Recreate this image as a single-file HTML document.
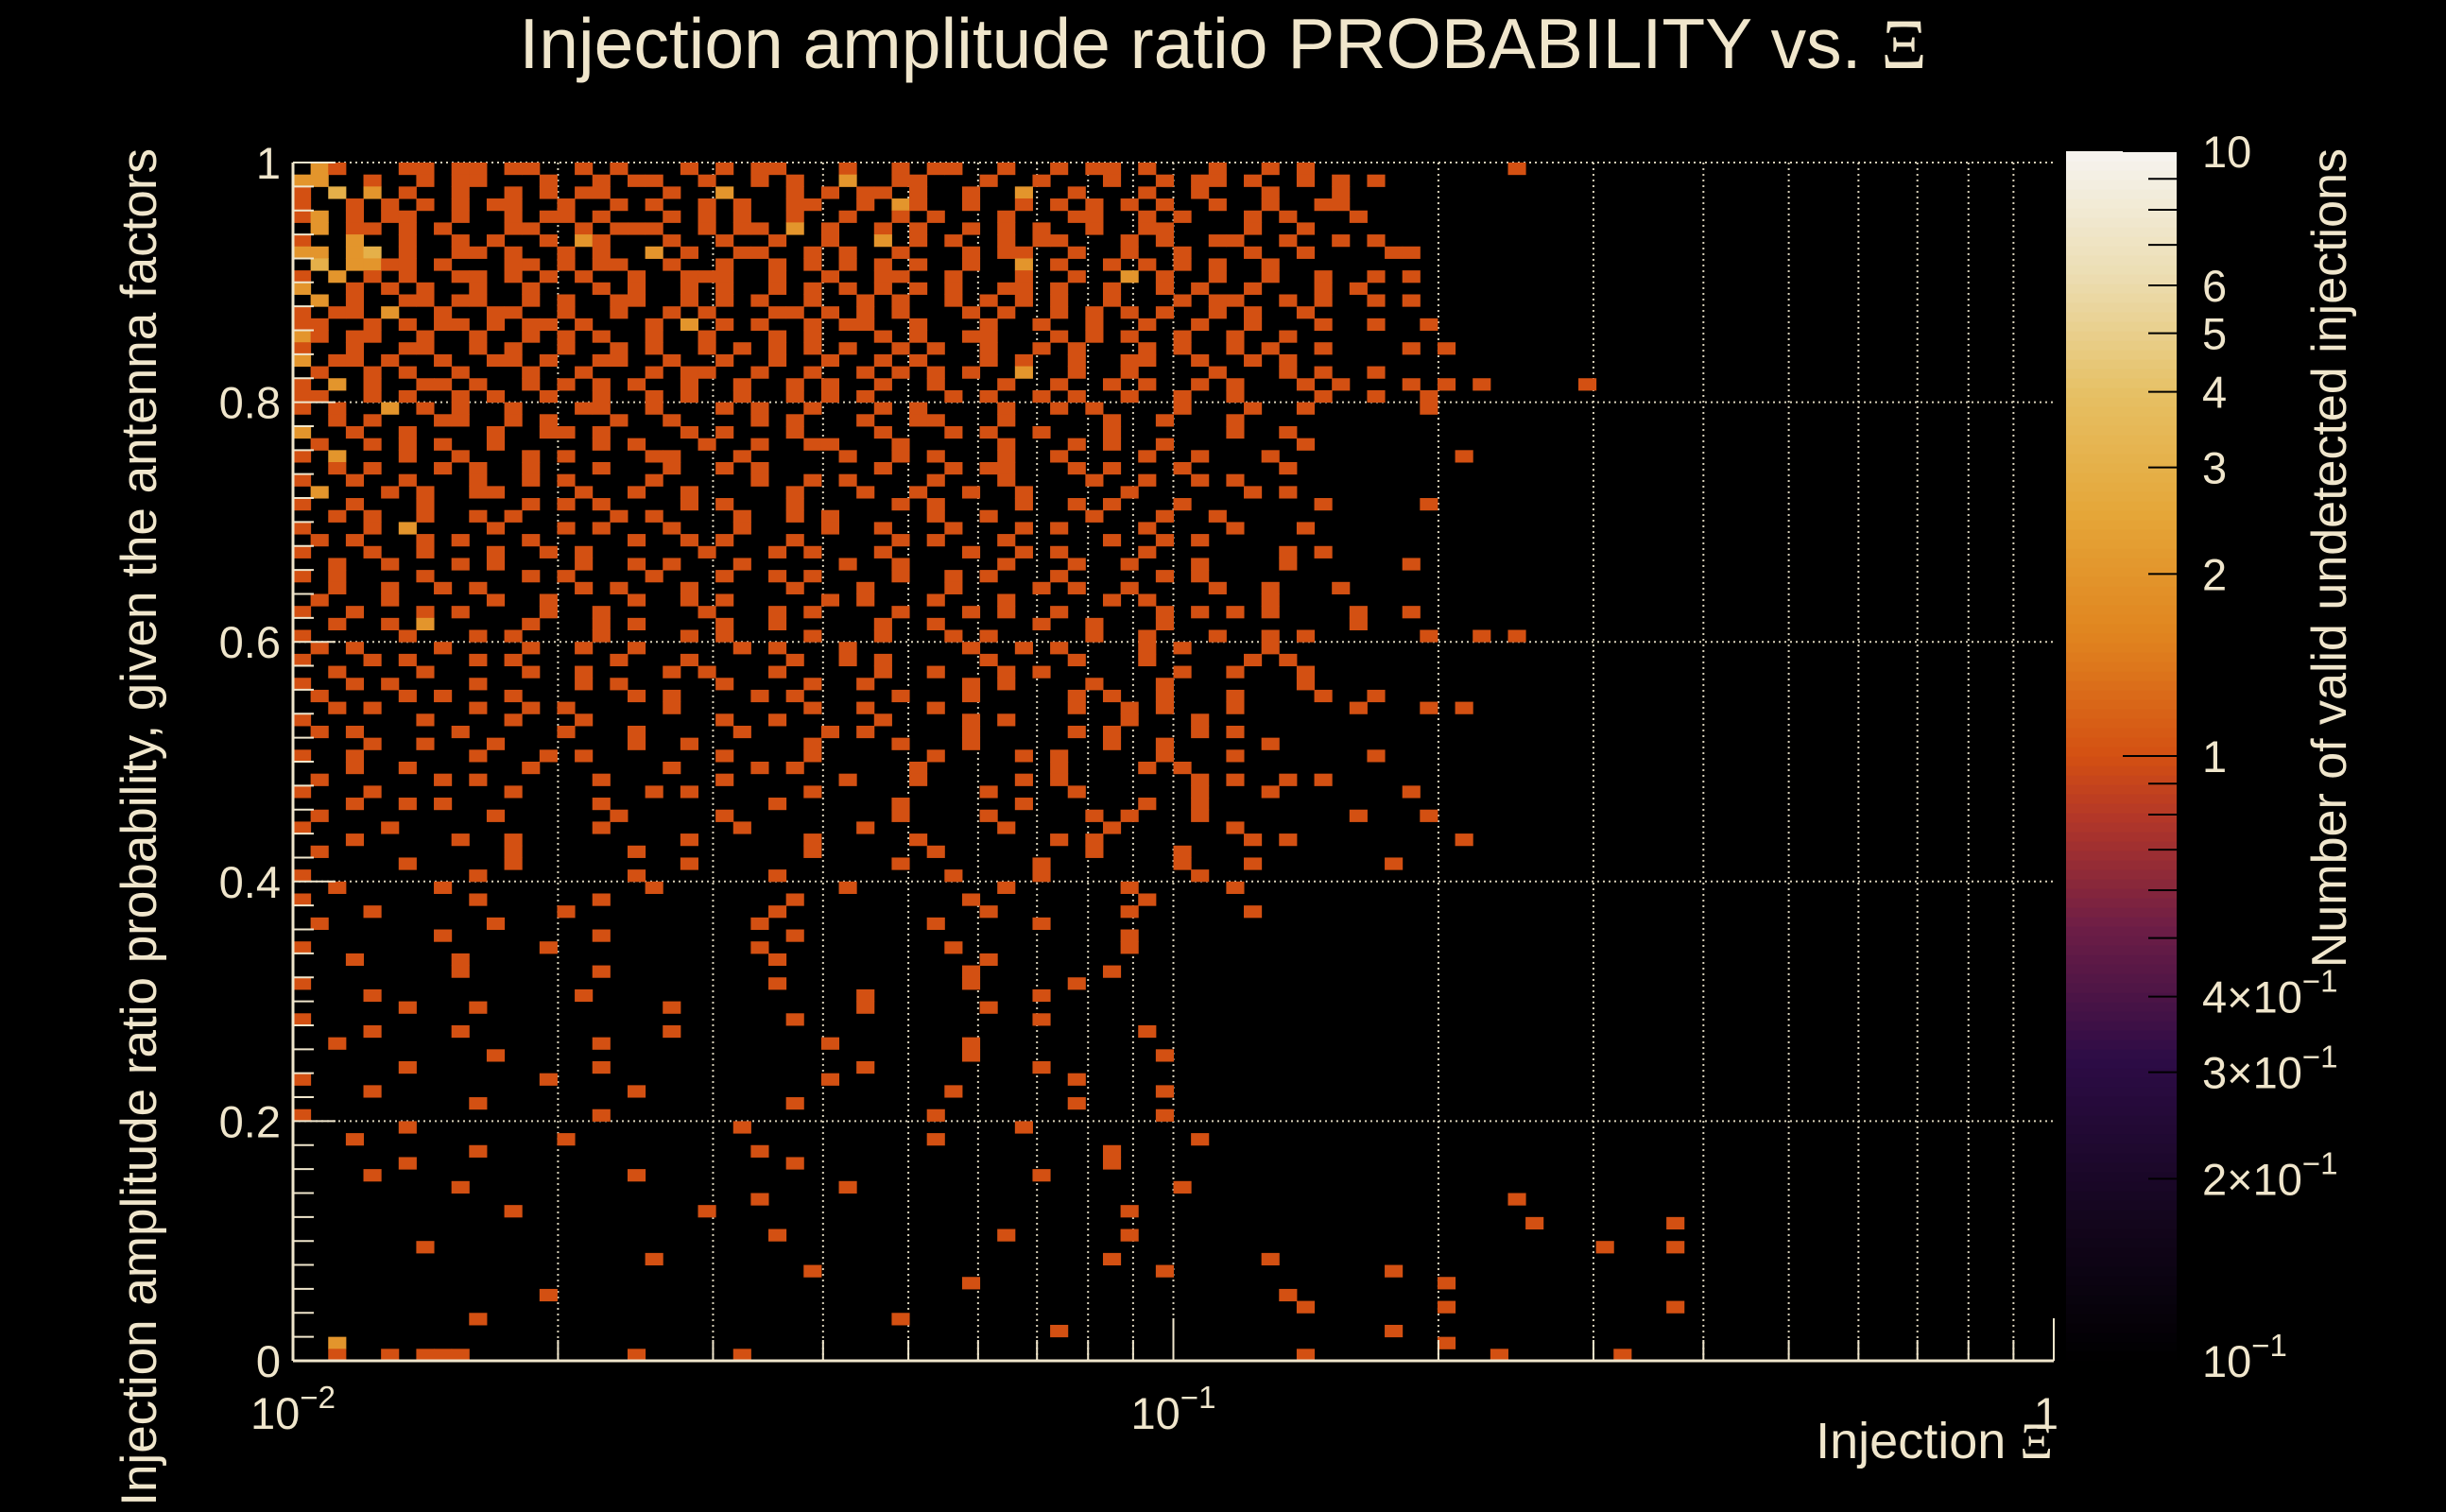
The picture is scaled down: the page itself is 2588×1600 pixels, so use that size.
<!DOCTYPE html>
<html><head><meta charset="utf-8"><style>
html,body{margin:0;padding:0;background:#000;}
svg{display:block;font-family:"Liberation Sans",sans-serif;}
</style></head><body>
<svg id="chart" width="2588" height="1600" viewBox="0 0 2588 1600" xmlns="http://www.w3.org/2000/svg">
<rect x="0" y="0" width="2588" height="1600" fill="#000"/>
<text x="1294" y="72" text-anchor="middle" font-size="75" fill="#f0e6cc">Injection amplitude ratio PROBABILITY vs.  <tspan font-family="Liberation Serif">Ξ</tspan></text>
<g id="grid"></g>
<g id="cells"></g>
<g id="axes"></g>
<g id="cbar"></g>
<text x="2172" y="1543" text-anchor="end" font-size="54" fill="#f0e6cc">Injection <tspan font-family="Liberation Serif">Ξ</tspan></text>
<text transform="translate(165,157) rotate(-90)" text-anchor="end" font-size="53" fill="#f0e6cc">Injection amplitude ratio probability, given the antenna factors</text>
<text transform="translate(2482,157) rotate(-90)" text-anchor="end" font-size="52" fill="#f0e6cc">Number of valid undetected injections</text>
</svg>
<script>
// Data: 100 x-bins (log10 x from -2 to 0), 100 y-bins (y from 1 down to 0). Row 0 = top.
const xRange = [0.01, 1];
const yRange = [0, 1];
const nBinsX = 100;
const nBinsY = 100;
const rows = [
".21...11.11.11..1.1...1.1.11...1..1.11..1..1.11.1...1..1.1...........1",
"22..1..1.11...1..1.11..1..1.1..2..11...1..1...1..1.11.1..1.1.1",
"1.3.2.1..1..1.1.11...1..2...1.1.11.1..1..2..1...1..1...1...1",
"1..1.1.1.1.11..1..1.1..1.1..11..1.21..1..1.1.1.1.1..1..1..11",
"12.1.11..1..1.11.1...1.1.1..1..1..1.1...1...11..1.1...1.1...1",
".2.11.1.1...11..1.111..1.11.2.1..1.1..1.1.1..1..11....1..1",
"1..2..1..1.1..1.21...1..1..1..1..2.1.1..1.11...1.1..11..1..1.1",
"22.23.1..11.1..1.1..2.1..11..1.1..1...1.11..1..1..1...1..1....11",
".3.2211.1...11.1.11..1..1..1.1.1.1.1..1..2.1..1.1.1.1..1",
"1.2.1.1..11.1.1.1..1..111..1..1..11..1...1..1..2.1..1..1..1..1.1",
"2..1.1.1..1..1...1.1..1.1..1.1.1.1.1.1..11.1..1..1.1..1...1.1",
".2.1..11.11..1.1..11..1.1.1..1..1.1..1.1.1.1..1...1.11..1.1..1.1",
"1.11.2..1..11..1..1..1.1...11.1.1.1...1.1..1.1.1.1..1.1..1",
"11..1.1.11.1.11.1...1.2.1.1..1.11..1...1..1..1..1..1..1...1..1..1",
"21.11..1..1..1.1.1..1..1...1.1...1.1..11...1.1.1..1..1..1",
"1..1..11..1.1..1..1.1..1.1.1.1.1..1.1..1..1.1...1.1..1.1..1....1.1",
"2.11.1..1..11.1..11..1..1..1..1..1.1...1.1..1..11..1..1.1",
".1..1.1..1...1..1...1.11..1..1..1.1.1.1..2..1..1....1...1.1..1",
"1.2.1..11.1..1.1.1.1..1..1..1.1..1..1...1..1..1.1..1.1...1.1...1.1.1.....1",
"11..1.1..1.1..1..1..1.1..1..1.1.1....1.1..1.1..1..1..1....1..1..1",
"1.1..2.1.1..1...11..1...1.1..1...1.1....1..1.1....1...1..1......1",
"..1.1...11..1.1...1..1....1.1...1..11...1.....1..1...1",
"2..1..1....1..11.1....1.1...1....1...1.1..1...1......1..1",
".1..1.1.1..1.....1.1...1..1..11...1.....1...1.1..1.......1",
"1.2...1..1...1.1....11...1.....1..1.1...1..1....1..1...1..........1",
"..1.1...1.1..1...1...1..1.1......1...1.11...1.1...1.....1",
"1..1..1...1..1.1....1.....1..1.1....1...1....1..1..1.1",
".2...1.1..11....1..1..1.....1...1..1..1..1.....1......1.1",
"1..1...1.....1.1.1....1.1...1.....1.1....1..1.1...1.......1.....1",
"..1.1..1..1.1.....1.1....1..1.1.....1..1.....1...1..1",
"1...1.2....1...1.1...1...1....1..1...1...1.1....1....1...1",
".1.1...1.1...1.....1..1.1...1.....1.1...1.....1..1.1",
"1...1..1...1..1.1......1...1.1...1....1..1.1....1.......1.1",
"..1..1...1.1....1..1.1...1.....1..1.....1...1..1...1....1......1",
"1.1....1.....1.1....1...1..1.1....1..1.1...1.....1.1",
"..1..1..1.1.....1.1...1.....1...1....1....1.1..1....1..1...1",
".1...1.....1..1....1..1.1.....1.1...1...1.....1.1......1",
"1..1...1.1....1..1.....1...1.1....1...1.1..1.....1.1.1.1....1..1",
"..1..1.2.....1...1.1....1..1.....1..1.....1..1...1..........1",
"1.....1...1.1....1....1.1....1...1...1.1.....1..1...1..1.1......1..1.1",
".1.1....1....1..1..1.....1.1...1......1..1.1....1.1....1",
"1...1.1...1.1.....1...1.....1..1.1.....1....1...1.....1.1",
"..1....1.....1..1....1.1...1.....1..1...1.1.......1..1...1",
"1..1.1....1.....1.1.....1....1..1.....1.1....1...1.......1",
".1....1.1...1......1.1....1.1.....1...1.....1.1..1...1....1..1",
"..1.1.....1..1.1.....1.......1..1...1.......1..1.1...1......1...1.1",
"1......1....1...1.......1..1.....1....1.1......1...1",
".1.1.....1.....1...1.....1....1.1.....1.....1.1....1.1",
"....1..1...1.......1..1......1....1...1.......1..1.....1",
"1..1......1...1.1.......1....1......1....1.1.....1...1.......1",
"...1..1......1.......1....1.1......1.......1....1.1",
".1......1.1......1......1......1...1.....1.1.......1.1..1.1",
"1...1.......1.......1.1......1.........1....1......1...1.......1",
"...1..1.1........1.........1......1......1......1..1",
".1.........1......1.....1.........1....1.....1.1...1........1...1",
"1....1...........1.......1......1.......1.....1......1",
"...1.....1..1.........1......1.....1.......1.1........1.1.........1",
".1..........1......1.........1......1........1....1",
"......1.....1.........1...........1.......1.......1...1.......1",
"1.........1........1.......1.........1....1........1",
"..1.....1...........1..........1........1......1.....1",
"1.........1......1..........1.........1.........1",
"....1..........1...........1...........1.......1......1",
".1.........1..............1.........1.....1",
"........1........1..........1..................1",
"1.............1...........1..........1.........1",
"...1.....1.................1...........1",
".........1.......1....................1.......1",
"1..........................1..........1.....1",
"....1...........1...............1.........1",
"......1...1..........1..........1......1",
"1...........................1.............1",
"....1....1...........1..........................1",
"..1..............1............1.......1",
"...........1..........................1..........1",
"......1..........1..............1.........1",
"1.............1...............1.............1",
"....1..............1.................1...........1",
"..........1.................1...............1",
"1................1..................1............1",
"......1..................1...............1",
"...1...........1....................1..............1",
"..........1...............1...................1",
"......1.....................1.................1",
"....1..............1......................1",
".........1.....................1..................1",
"..........................1..........................................1",
"............1..........1.......................1",
"......................................................................1.......1",
"...........................1............1......1",
".......1..................................................................1...1",
"....................1.........................1........1",
".............................1...................1............1",
"......................................1..........................1",
"..............1.........................................1",
".........................................................1.......1............1",
"..........1.......................1",
"...........................................1..................1",
"..2..............................................................1",
"..1..1.111.........1.....1...............................1..........1......1"
];
const yTicks = [0, 0.2, 0.4, 0.6, 0.8, 1];
const yTickLabels = ["0", "0.2", "0.4", "0.6", "0.8", "1"];
const xDecades = [0.01, 0.1, 1];
const xTickBase = ["10", "10", "1"];
const xTickExp = ["\u22122", "\u22121", ""];
const cbTicks = [10, 6, 5, 4, 3, 2, 1, 0.4, 0.3, 0.2, 0.1];
const cbLabelBase = ["10", "6", "5", "4", "3", "2", "1", "4\u00d710", "3\u00d710", "2\u00d710", "10"];
const cbLabelExp = ["", "", "", "", "", "", "", "\u22121", "\u22121", "\u22121", "\u22121"];
const cbRange = [0.1, 10];

const NS = "http://www.w3.org/2000/svg";
const P = {l:310, r:2173, t:172, b:1440};
const CB = {l:2186, r:2303, t:160, b:1440};
function xScale(v){ return P.l + (Math.log10(v)-Math.log10(xRange[0]))/(Math.log10(xRange[1])-Math.log10(xRange[0]))*(P.r-P.l); }
function yScale(v){ return P.b - (v-yRange[0])/(yRange[1]-yRange[0])*(P.b-P.t); }
function cbScale(v){ return CB.b - (Math.log10(v)-Math.log10(cbRange[0]))/(Math.log10(cbRange[1])-Math.log10(cbRange[0]))*(CB.b-CB.t); }
const stops = [[0,[0,0,0]],[0.12,[20,6,30]],[0.25,[45,12,70]],[0.36,[110,30,70]],[0.45,[180,55,40]],[0.5,[211,80,18]],[0.6,[224,132,31]],[0.7,[229,166,56]],[0.8,[230,192,100]],[0.9,[236,222,180]],[1,[246,244,240]]];
function colorAt(t){
  t=Math.max(0,Math.min(1,t));
  for(let i=1;i<stops.length;i++){ if(t<=stops[i][0]){ const a=stops[i-1],b=stops[i]; const f=(t-a[0])/(b[0]-a[0]);
    const c=a[1].map((v,k)=>Math.round(v+(b[1][k]-v)*f)); return "rgb("+c.join(",")+")"; } }
  return "rgb(246,244,240)";
}
function valColor(v){ return colorAt((Math.log10(v)-Math.log10(cbRange[0]))/(Math.log10(cbRange[1])-Math.log10(cbRange[0]))); }
function mk(tag, attrs, parent){ const e=document.createElementNS(NS,tag); for(const k in attrs) e.setAttribute(k,attrs[k]); parent.appendChild(e); return e; }
const FG="#f0e6cc";
const grid=document.getElementById("grid"), cells=document.getElementById("cells"), axes=document.getElementById("axes"), cbar=document.getElementById("cbar");
for(let d=0; d<xDecades.length-1; d++){
  for(let m=1;m<=9;m++){ const v=xDecades[d]*m; if(v<=xRange[0]) continue; const x=xScale(v);
    const ln=mk("line",{x1:x,x2:x,y1:P.t,y2:P.b,stroke:"#d8d0b8","stroke-width":2,"stroke-dasharray":"2 4"},grid);
    
     }
}
yTicks.forEach(v=>{ if(v===0) return; const y=yScale(v);
  const ln=mk("line",{x1:P.l,x2:P.r,y1:y,y2:y,stroke:"#d8d0b8","stroke-width":2,"stroke-dasharray":"2 4"},grid);
  
   });
const lx0=Math.log10(xRange[0]), lx1=Math.log10(xRange[1]);
rows.forEach((row,ri)=>{
  for(let ci=0; ci<row.length; ci++){
    const ch=row[ci]; if(ch==='.') continue; const v=parseInt(ch,10); if(!v) continue;
    const xa=Math.pow(10,lx0+(lx1-lx0)*ci/nBinsX), xb=Math.pow(10,lx0+(lx1-lx0)*(ci+1)/nBinsX);
    const ya=yRange[1]-(yRange[1]-yRange[0])*ri/nBinsY, yb=yRange[1]-(yRange[1]-yRange[0])*(ri+1)/nBinsY;
    const x=xScale(xa), w=xScale(xb)-x, y=yScale(ya), h=yScale(yb)-y;
    const r=mk("rect",{x:x,y:y,width:w+0.5,height:h+0.5,fill:valColor(v)},cells);
    
    
  }
});
mk("line",{x1:P.l,x2:P.l,y1:P.t,y2:P.b,stroke:FG,"stroke-width":3},axes);
mk("line",{x1:P.l,x2:P.r,y1:P.b,y2:P.b,stroke:FG,"stroke-width":3},axes);
for(let i=0;i<=50;i++){ const v=i/50; const y=yScale(v); const major=(i%10===0); const len=major?45:22;
  mk("line",{x1:P.l,x2:P.l+len,y1:y,y2:y,stroke:FG,"stroke-width":2},axes); }
yTicks.forEach((v,i)=>{ const t=mk("text",{x:297,y:yScale(v)+17,"text-anchor":"end","font-size":47,fill:FG},axes); t.textContent=yTickLabels[i];
  
   });
for(let d=0; d<xDecades.length; d++){
  for(let m=1;m<=9;m++){ const v=xDecades[d]*m; if(v>xRange[1]) break; const x=xScale(v); const len=(m===1)?45:22;
    mk("line",{x1:x,x2:x,y1:P.b,y2:P.b-len,stroke:FG,"stroke-width":2},axes); }
}
xDecades.forEach((v,i)=>{ const t=mk("text",{x:xScale(v)+(xTickExp[i]?0:-8),y:1512,"text-anchor":"middle","font-size":47,fill:FG},axes);
  t.textContent=xTickBase[i];
  if(xTickExp[i]){ const s=mk("tspan",{"font-size":33,dy:-22},t); s.textContent=xTickExp[i]; }
  
   });
const N=128;
for(let i=0;i<N;i++){ const y0=CB.b-(CB.b-CB.t)*(i+1)/N, h=(CB.b-CB.t)/N;
  mk("rect",{x:CB.l,y:y0,width:CB.r-CB.l,height:h+0.6,fill:colorAt((i+0.5)/N)},cbar); }
const cbMinor=[0.1,0.2,0.3,0.4,0.5,0.6,0.7,0.8,0.9,1,2,3,4,5,6,7,8,9,10];
cbMinor.forEach(v=>{ const y=cbScale(v); const major=(v===1||v===10||v===0.1); mk("line",{x1:major?CB.l+60:CB.r-30,x2:CB.r,y1:y,y2:y,stroke:"#000","stroke-width":2},cbar); });
cbTicks.forEach((v,i)=>{ const t=mk("text",{x:2330,y:cbScale(v)+17,"font-size":47,fill:FG},cbar); t.textContent=cbLabelBase[i];
  if(cbLabelExp[i]){ const s=mk("tspan",{"font-size":33,dy:-22},t); s.textContent=cbLabelExp[i]; }
  
   });
</script>
</body></html>
